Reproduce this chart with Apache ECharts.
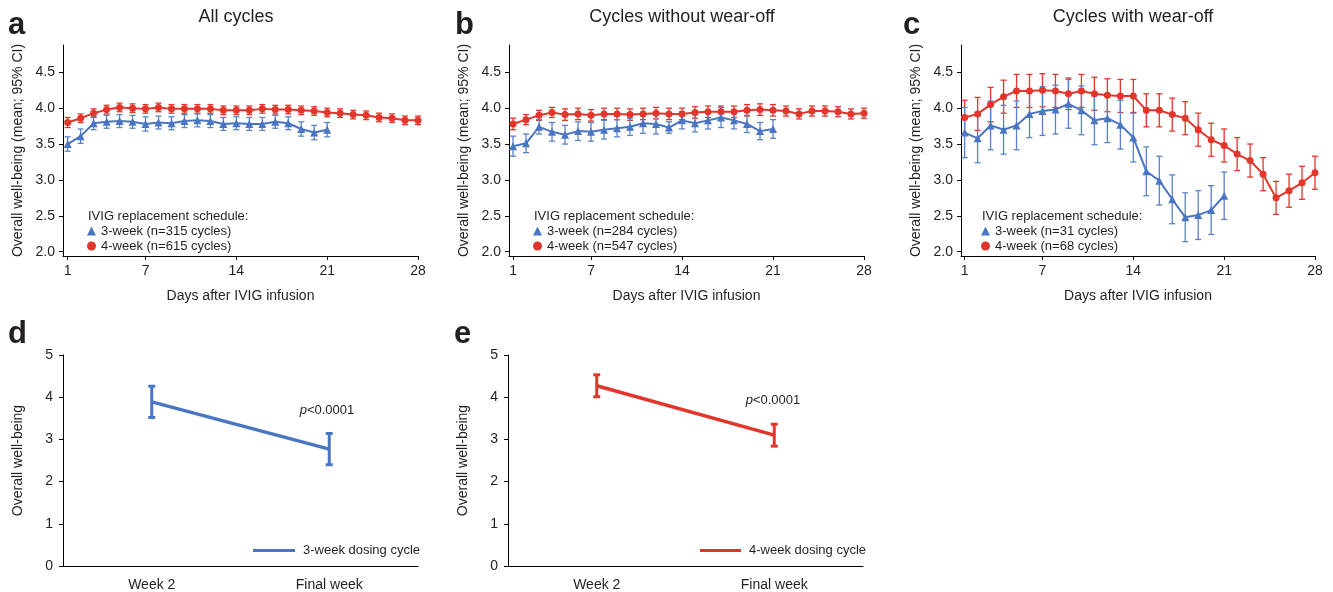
<!DOCTYPE html>
<html>
<head>
<meta charset="utf-8">
<script src="https://cdn.jsdelivr.net/npm/echarts@6/dist/echarts.min.js"></script>
<style>
html,body{margin:0;padding:0;background:#fff;}
#chart{width:1333px;height:592px;}
</style>
</head>
<body>
<div id="chart"></div>
<script>
// ---------- data ----------
const days28 = [1,2,3,4,5,6,7,8,9,10,11,12,13,14,15,16,17,18,19,20,21,22,23,24,25,26,27,28];
const days21 = [1,2,3,4,5,6,7,8,9,10,11,12,13,14,15,16,17,18,19,20,21];
const dayTicks = [1,7,14,21,28];
const wellTicks = [2.0,2.5,3.0,3.5,4.0,4.5];

// Panel a: All cycles
const aRed  = [3.80,3.86,3.93,3.98,4.01,4.00,3.99,4.01,3.99,3.99,3.99,3.99,3.97,3.97,3.97,3.99,3.98,3.98,3.97,3.96,3.94,3.93,3.91,3.90,3.87,3.86,3.83,3.83];
const aRedErr  = [0.07,0.06,0.06,0.06,0.06,0.06,0.06,0.06,0.06,0.06,0.06,0.06,0.06,0.06,0.06,0.06,0.06,0.06,0.06,0.06,0.06,0.06,0.06,0.06,0.06,0.06,0.06,0.06];
const aBlue = [3.50,3.61,3.79,3.81,3.82,3.81,3.78,3.80,3.79,3.82,3.83,3.82,3.78,3.79,3.78,3.78,3.81,3.79,3.71,3.66,3.70];
const aBlueErr = [0.10,0.10,0.09,0.09,0.09,0.09,0.10,0.09,0.09,0.09,0.09,0.09,0.09,0.09,0.09,0.09,0.09,0.09,0.10,0.10,0.10];

// Panel b: Cycles without wear-off
const bRed  = [3.78,3.84,3.90,3.94,3.91,3.92,3.90,3.92,3.92,3.91,3.92,3.93,3.92,3.92,3.94,3.95,3.95,3.95,3.97,3.98,3.97,3.96,3.92,3.96,3.96,3.95,3.92,3.93];
const bRedErr  = [0.08,0.07,0.07,0.07,0.08,0.08,0.08,0.08,0.08,0.08,0.08,0.08,0.08,0.08,0.08,0.08,0.08,0.08,0.08,0.08,0.08,0.07,0.07,0.07,0.07,0.07,0.07,0.07];
const bBlue = [3.47,3.51,3.74,3.67,3.63,3.68,3.67,3.70,3.72,3.74,3.79,3.78,3.73,3.83,3.79,3.83,3.87,3.83,3.78,3.68,3.71];
const bBlueErr = [0.14,0.13,0.10,0.13,0.13,0.13,0.13,0.13,0.12,0.12,0.14,0.14,0.08,0.12,0.12,0.12,0.14,0.12,0.12,0.12,0.13];

// Panel c: Cycles with wear-off
const cRed  = [3.87,3.92,4.05,4.16,4.24,4.24,4.25,4.24,4.20,4.24,4.20,4.18,4.17,4.17,3.97,3.97,3.91,3.86,3.70,3.56,3.48,3.36,3.27,3.08,2.75,2.85,2.96,3.10];
const cRedErr  = [0.24,0.23,0.24,0.23,0.23,0.23,0.23,0.23,0.22,0.23,0.23,0.23,0.23,0.23,0.23,0.23,0.23,0.23,0.23,0.23,0.23,0.23,0.23,0.23,0.23,0.23,0.23,0.23];
const cBlue = [3.66,3.58,3.76,3.70,3.76,3.92,3.96,3.98,4.06,3.97,3.83,3.86,3.77,3.59,3.12,2.99,2.73,2.48,2.51,2.58,2.78];
const cBlueErr = [0.35,0.34,0.34,0.34,0.34,0.33,0.34,0.34,0.34,0.34,0.34,0.34,0.34,0.34,0.34,0.34,0.34,0.34,0.34,0.34,0.33];

// Panels d, e
const weekCats = ['Week 2','Final week'];
const dVals = [3.89,2.77];
const dErr  = [0.37,0.37];
const eVals = [4.27,3.10];
const eErr  = [0.26,0.26];

const legendNames = {
  a: ['3-week (n=315 cycles)','4-week (n=615 cycles)'],
  b: ['3-week (n=284 cycles)','4-week (n=547 cycles)'],
  c: ['3-week (n=31 cycles)','4-week (n=68 cycles)'],
  d: '3-week dosing cycle',
  e: '4-week dosing cycle'
};

// ---------- styling ----------
const BLUE = '#4a75c2';
const BLUE_ERR = '#5a82c8';
const RED = '#e2352b';
const TXT = '#231f20';
const FONT = 'Liberation Sans, Arial, Helvetica, sans-serif';

function pairs(xs, ys){ return ys.map((v,i)=>[xs[i], v]); }
function errs(xs, ys, es){ return ys.map((v,i)=>[xs[i], v-es[i], v+es[i]]); }

function errRender(cap, lw){
  return function(params, api){
    const x = api.value(0), lo = api.value(1), hi = api.value(2);
    const pl = api.coord([x, lo]), ph = api.coord([x, hi]);
    const st = {stroke: api.visual('color'), lineWidth: lw};
    return {type:'group', children:[
      {type:'line', shape:{x1:pl[0],y1:pl[1],x2:ph[0],y2:ph[1]}, style:st},
      {type:'line', shape:{x1:pl[0]-cap,y1:pl[1],x2:pl[0]+cap,y2:pl[1]}, style:st},
      {type:'line', shape:{x1:ph[0]-cap,y1:ph[1],x2:ph[0]+cap,y2:ph[1]}, style:st}
    ]};
  };
}

const axisLine = {show:true, lineStyle:{color:'#000', width:1}};
const axisTick = {show:true, inside:false, length:4, lineStyle:{color:'#000', width:1}};

const topGrids = [
  {left:63, top:45, width:355, height:211},
  {left:509, top:45, width:355, height:211},
  {left:961, top:45, width:354, height:211}
];
const botGrids = [
  {left:63, top:355, width:355, height:211},
  {left:508, top:355, width:355, height:211}
];

const grid = topGrids.concat(botGrids);
const xAxis = [];
const yAxis = [];
const xMins = [0.64, 0.69, 0.72];
for (let i=0;i<3;i++){
  xAxis.push({
    gridIndex:i, type:'value', min:xMins[i], max:28,
    axisLine, axisTick:Object.assign({customValues:dayTicks}, axisTick),
    axisLabel:{customValues:dayTicks, fontSize:14, color:TXT, fontFamily:FONT, margin:8},
    splitLine:{show:false},
    name:'Days after IVIG infusion', nameLocation:'middle', nameGap:33,
    nameTextStyle:{fontSize:14, color:TXT, fontFamily:FONT}
  });
  yAxis.push({
    gridIndex:i, type:'value', min:1.94, max:4.88,
    axisLine, axisTick:Object.assign({customValues:wellTicks}, axisTick),
    axisLabel:{customValues:wellTicks, fontSize:14, color:TXT, fontFamily:FONT, margin:8,
      formatter:v=>v.toFixed(1)},
    splitLine:{show:false},
    name:'Overall well-being (mean; 95% CI)', nameLocation:'middle', nameRotate:90, nameGap:38,
    nameTextStyle:{fontSize:14, color:TXT, fontFamily:FONT}
  });
}
for (let i=3;i<5;i++){
  xAxis.push({
    gridIndex:i, type:'category', data:weekCats,
    axisLine, axisTick:{show:false},
    axisLabel:{fontSize:14, color:TXT, fontFamily:FONT, margin:12},
    splitLine:{show:false}
  });
  yAxis.push({
    gridIndex:i, type:'value', min:0, max:5, interval:1,
    axisLine, axisTick,
    axisLabel:{fontSize:14, color:TXT, fontFamily:FONT, margin:10},
    splitLine:{show:false},
    name:'Overall well-being', nameLocation:'middle', nameRotate:90, nameGap:38,
    nameTextStyle:{fontSize:14, color:TXT, fontFamily:FONT}
  });
}

const series = [];
function addTop(idx, names, blue, blueErr, red, redErr){
  series.push({type:'custom', xAxisIndex:idx, yAxisIndex:idx, renderItem:errRender(3,1.3),
    itemStyle:{color:RED}, data:errs(days28, red, redErr), encode:{x:0,y:[1,2]}, z:1, silent:true});
  series.push({type:'custom', xAxisIndex:idx, yAxisIndex:idx, renderItem:errRender(3,1.3),
    itemStyle:{color:BLUE_ERR}, data:errs(days21, blue, blueErr), encode:{x:0,y:[1,2]}, z:1, silent:true});
  series.push({type:'line', name:names[1], xAxisIndex:idx, yAxisIndex:idx, data:pairs(days28, red),
    symbol:'circle', symbolSize:7, showSymbol:true, itemStyle:{color:RED}, lineStyle:{color:RED, width:2}, z:3});
  series.push({type:'line', name:names[0], xAxisIndex:idx, yAxisIndex:idx, data:pairs(days21, blue),
    symbol:'triangle', symbolSize:8, showSymbol:true, itemStyle:{color:BLUE}, lineStyle:{color:BLUE, width:2}, z:4});
}
addTop(0, legendNames.a, aBlue, aBlueErr, aRed, aRedErr);
addTop(1, legendNames.b, bBlue, bBlueErr, bRed, bRedErr);
addTop(2, legendNames.c, cBlue, cBlueErr, cRed, cRedErr);

function addBot(idx, name, vals, es, color){
  series.push({type:'custom', xAxisIndex:idx, yAxisIndex:idx, renderItem:errRender(3.5,3),
    itemStyle:{color}, data:vals.map((v,i)=>[i, v-es[i], v+es[i]]), encode:{x:0,y:[1,2]}, z:2, silent:true});
  series.push({type:'line', name, xAxisIndex:idx, yAxisIndex:idx,
    data:vals.map((v,i)=>({value:v, label:{position: i===0 ? 'left' : 'right', distance: i===0 ? 18 : 16}})),
    symbol:'none', itemStyle:{color}, lineStyle:{color, width:3.5}, z:3,
    label:{show:true, formatter:p=>Number(p.value).toFixed(1), fontSize:14, color:TXT, fontFamily:FONT}});
}
addBot(3, legendNames.d, dVals, dErr, BLUE);
addBot(4, legendNames.e, eVals, eErr, RED);

const legendBase = {orient:'vertical', itemWidth:9, itemHeight:9, itemGap:1, padding:0,
  textStyle:{fontSize:13, color:TXT, fontFamily:FONT, lineHeight:14}, selectedMode:false};
const legend = [
  Object.assign({left:87, top:224, data:[{name:legendNames.a[0], icon:'triangle'},{name:legendNames.a[1], icon:'circle'}]}, legendBase),
  Object.assign({left:533, top:224, data:[{name:legendNames.b[0], icon:'triangle'},{name:legendNames.b[1], icon:'circle'}]}, legendBase),
  Object.assign({left:981, top:224, data:[{name:legendNames.c[0], icon:'triangle'},{name:legendNames.c[1], icon:'circle'}]}, legendBase),
  {left:253, top:544, padding:0, itemWidth:42, itemHeight:3, icon:'rect', selectedMode:false,
   data:[legendNames.d], textStyle:{fontSize:13, color:TXT, fontFamily:FONT, padding:[0,0,0,3]}},
  {left:700, top:544, padding:0, itemWidth:41, itemHeight:3, icon:'rect', selectedMode:false,
   data:[legendNames.e], textStyle:{fontSize:13, color:TXT, fontFamily:FONT, padding:[0,0,0,3]}}
];

function txt(text, x, y, opts){
  return {type:'text', x, y, silent:true, style:Object.assign({text, fill:TXT, font:'14px '+FONT,
    textAlign:'left', textVerticalAlign:'middle'}, opts||{})};
}
const graphic = [
  txt('a', 8, 25, {font:'bold 31px '+FONT}),
  txt('b', 455, 25, {font:'bold 31px '+FONT}),
  txt('c', 903, 25, {font:'bold 31px '+FONT}),
  txt('d', 8, 334, {font:'bold 31px '+FONT}),
  txt('e', 454, 334, {font:'bold 31px '+FONT}),
  txt('All cycles', 236, 17, {font:'18px '+FONT, textAlign:'center'}),
  txt('Cycles without wear-off', 682, 17, {font:'18px '+FONT, textAlign:'center'}),
  txt('Cycles with wear-off', 1133, 17, {font:'18px '+FONT, textAlign:'center'}),
  txt('IVIG replacement schedule:', 88, 216, {font:'13px '+FONT}),
  txt('IVIG replacement schedule:', 534, 216, {font:'13px '+FONT}),
  txt('IVIG replacement schedule:', 982, 216, {font:'13px '+FONT}),
  {type:'text', x:327, y:410, silent:true, style:{text:'{i|p}<0.0001', font:'13px '+FONT, fill:TXT,
    textAlign:'center', textVerticalAlign:'middle', rich:{i:{fontStyle:'italic', fontSize:13, fontFamily:FONT}}}},
  {type:'text', x:773, y:400, silent:true, style:{text:'{i|p}<0.0001', font:'13px '+FONT, fill:TXT,
    textAlign:'center', textVerticalAlign:'middle', rich:{i:{fontStyle:'italic', fontSize:13, fontFamily:FONT}}}}
];

const chart = echarts.init(document.getElementById('chart'), null, {renderer:'canvas'});
chart.setOption({
  animation:false,
  backgroundColor:'#fff',
  textStyle:{fontFamily:FONT},
  grid, xAxis, yAxis, series, legend, graphic
});
</script>
</body>
</html>
